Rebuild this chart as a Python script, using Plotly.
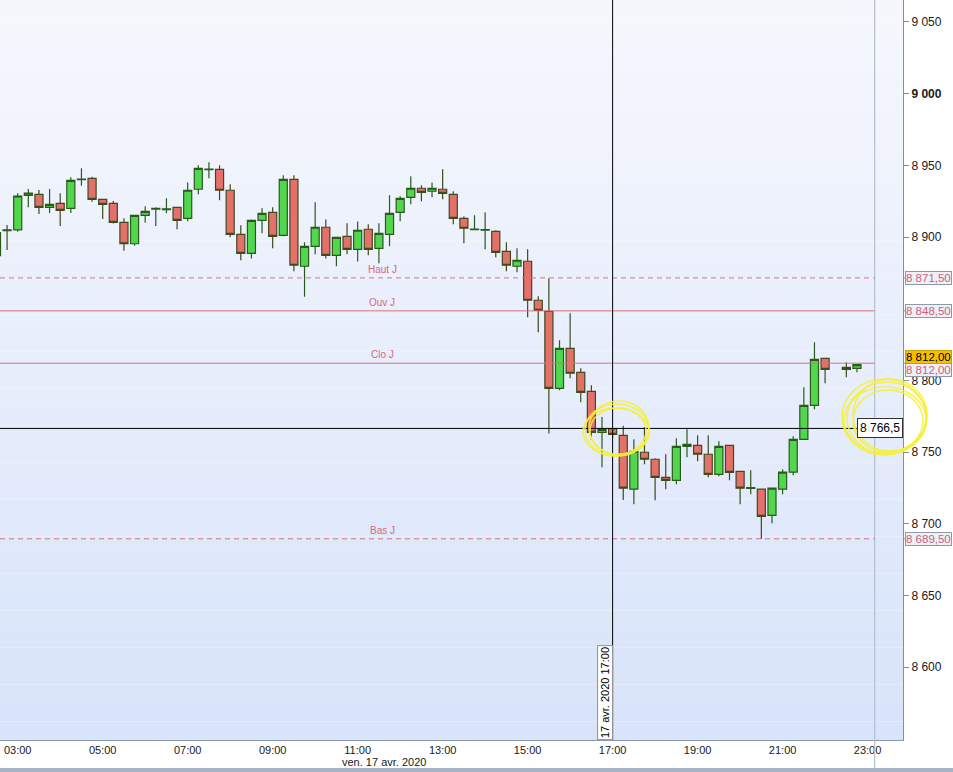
import pandas as pd
import plotly.graph_objects as go

# ---------------- data ----------------
times = [t.strftime("%Y-%m-%d %H:%M") for t in pd.date_range("2020-04-17 02:30", "2020-04-17 22:45", freq="15min")
         if t.strftime("%H:%M") != "22:15"]

opens = [8887, 8904.5, 8905, 8929, 8929.8, 8920.7, 8923.5, 8920, 8940.0, 8940.9,
         8926.3, 8923.5, 8910.2, 8895.3, 8915.1, 8919.5, 8919.0, 8920.7, 8913, 8933.3,
         8947.0, 8947.2, 8932.6, 8901.9, 8888.6, 8911.6, 8917.2, 8901.2, 8940.2, 8879.6,
         8893.5, 8906.8, 8887.2, 8900.5, 8891.4, 8905.4, 8892.1, 8901.9, 8917.2, 8927.7,
         8934, 8931.9, 8933.3, 8929.8, 8913, 8905.2, 8904.7, 8904, 8890, 8879.6,
         8883.1, 8855.9, 8848.2, 8794.5, 8822.4, 8805.6, 8792.4, 8763.8, 8766.4, 8761.7,
         8724.1, 8749.9, 8745, 8732.4, 8730.3, 8754, 8754.7, 8748.5, 8734.5, 8754.7,
         8736.6, 8724.6, 8724.1, 8705.9, 8724.1, 8736, 8758.9, 8782.6, 8815.4,
         8809.1, 8808.4]
highs = [8906, 8908.4, 8930.5, 8933.5, 8932.8, 8933.5, 8930.5, 8941.6, 8947.9, 8942,
         8926.3, 8925.1, 8913, 8915.1, 8921.4, 8920.7, 8927, 8920.7, 8938.1, 8950,
         8952.1, 8950, 8936.8, 8908.2, 8912.3, 8920, 8920.7, 8943, 8943, 8896.3,
         8924.2, 8912.3, 8899.8, 8909.6, 8910.9, 8908.9, 8909.6, 8929.1, 8928.4, 8942.3,
         8936.1, 8938.1, 8947.2, 8931.9, 8914.4, 8915.1, 8917.2, 8904.7, 8896.3, 8892.1,
         8891.4, 8858.6, 8871.2, 8828, 8846.9, 8808.4, 8796.6, 8774.5, 8767, 8768.4,
         8758.9, 8767.3, 8745.7, 8748.5, 8759.6, 8765.9, 8761.7, 8761.7, 8757.5, 8754.7,
         8736.6, 8737.3, 8724.1, 8724.8, 8738, 8761, 8795.2, 8826.6, 8815.4,
         8812.6, 8810.5]
lows = [8884, 8891, 8903.7, 8920.7, 8916, 8916.7, 8907.7, 8916.7, 8935.8, 8924.6,
        8912.6, 8909.5, 8890.5, 8893.9, 8910, 8907.7, 8916.5, 8905.4, 8911, 8929.8,
        8940.9, 8925.6, 8899.8, 8883.8, 8885.1, 8902.6, 8892.1, 8900.5, 8876.1, 8858.4,
        8887.9, 8885.1, 8879.6, 8887.9, 8883, 8887.2, 8881.7, 8893.5, 8911, 8922.8,
        8924.9, 8927.7, 8926.3, 8908.9, 8895.6, 8904.7, 8891.4, 8885.8, 8876.1, 8875.4,
        8844, 8833.5, 8763, 8793.1, 8801.5, 8784.7, 8758.4, 8739.4, 8760, 8716.5,
        8713.6, 8741.5, 8716.4, 8724.1, 8727.5, 8746.4, 8743.6, 8732.4, 8733.1, 8730.3,
        8713.6, 8720.6, 8689.5, 8700.3, 8720.6, 8733.8, 8758.9, 8779.8, 8798,
        8802.2, 8805.6]
closes = [8903, 8905, 8928.6, 8930.7, 8920.7, 8922.8, 8918.6, 8939.5, 8940.4, 8926.3,
          8922.8, 8910.2, 8895.3, 8915.1, 8917.9, 8920, 8919.6, 8911.6, 8932.6, 8947.9,
          8947.4, 8932.6, 8901.9, 8888.6, 8911.6, 8916.5, 8900.5, 8940.2, 8880.3, 8893.5,
          8906.8, 8887.2, 8899.8, 8891.4, 8904.7, 8891.4, 8902.6, 8916.5, 8927, 8934,
          8931.2, 8934, 8930.5, 8913, 8906.1, 8905.6, 8905.2, 8889.3, 8880.3, 8883.8,
          8855.9, 8848.9, 8794.5, 8822.4, 8805, 8791.7, 8763.8, 8765.9, 8762.4, 8724.8,
          8750.6, 8745, 8732.4, 8730.3, 8754, 8755.4, 8748.5, 8734.5, 8754, 8735.9,
          8724.8, 8725.2, 8705.2, 8724.8, 8736, 8758.9, 8782.6, 8814.7, 8807.7,
          8807.7, 8811]

level_names = ["Haut J", "Ouv J", "Clo J", "Bas J"]
level_values = [8871.5, 8848.5, 8812.0, 8689.5]
level_dashed = [True, False, False, True]
level_texts = ["8 871,50", "8 848,50", "8 812,00", "8 689,50"]

last_price_text = "8 812,00"
last_price = 8812.0
cross_price = 8766.5
cross_price_text = "8 766,5"
cross_time = "2020-04-17 17:00"
cross_time_text = "17 avr. 2020 17:00"
date_text = "ven. 17 avr. 2020"

ytick_vals = [8600, 8650, 8700, 8750, 8800, 8900, 8950, 9000, 9050]
ytick_text = ["8 600", "8 650", "8 700", "8 750", "8 800", "8 900", "8 950", "<b>9 000</b>", "9 050"]
xtick_vals = ["2020-04-17 %02d:00" % h for h in range(3, 24, 2)]
xtick_text = ["%02d:00" % h for h in range(3, 24, 2)]

# ---------------- layout constants ----------------
W, H = 953, 772
ML, MR, MT, MB = 0, 50, 0, 32
PW, PH = W - ML - MR, H - MT - MB
Y0, Y1 = 8549.2, 9065.3
X0, X1 = "2020-04-17 02:35:00", "2020-04-17 23:50:00"
SEP_T = "2020-04-17 23:10"

def py(price):
    return (price - Y0) / (Y1 - Y0)

fig = go.Figure()

fig.add_trace(go.Candlestick(
    x=times, open=opens, high=highs, low=lows, close=closes,
    increasing=dict(fillcolor="#52d64e", line=dict(color="#2b5a1c", width=1.2)),
    decreasing=dict(fillcolor="#e4706a", line=dict(color="#3f4a1e", width=1.2)),
    whiskerwidth=0, hoverinfo="skip", showlegend=False,
))

shapes = []
# gradient background
N = 40
c_top = (246, 247, 253)
c_bot = (216, 228, 250)
for i in range(N):
    f = i / (N - 1)
    c = tuple(int(round(c_top[k] + (c_bot[k] - c_top[k]) * f)) for k in range(3))
    shapes.append(dict(type="rect", xref="paper", yref="paper", x0=0, x1=1,
                       y0=1 - (i + 1) / N, y1=1 - i / N, fillcolor="rgb(%d,%d,%d)" % c,
                       line=dict(width=0), layer="below"))

# separator line near right
shapes.append(dict(type="line", xref="x", yref="paper", x0=SEP_T, x1=SEP_T, y0=-(H - 4 - PH) / PH, y1=1,
                   line=dict(color="#b3bfd3", width=1.2), layer="above"))

# level lines
for v, d in zip(level_values, level_dashed):
    shapes.append(dict(type="line", xref="x", yref="y", x0=X0, x1=SEP_T, y0=v, y1=v,
                       line=dict(color="#d8707e", width=1, dash="5px,4px" if d else "solid")))
    shapes.append(dict(type="line", xref="paper", yref="paper", x0=1, x1=1 + 5 / PW, y0=py(v), y1=py(v),
                       line=dict(color="#7f8fa0", width=1)))

# crosshair
shapes.append(dict(type="line", xref="x", yref="paper", x0=cross_time, x1=cross_time, y0=0, y1=1,
                   line=dict(color="black", width=1)))
shapes.append(dict(type="line", xref="paper", yref="y", x0=0, x1=1, y0=cross_price, y1=cross_price,
                   line=dict(color="black", width=1)))

# bottom band
shapes.append(dict(type="rect", xref="paper", yref="paper", x0=0, x1=W / PW,
                   y0=-(H - PH) / PH, y1=-(H - 4 - PH) / PH, fillcolor="#a7b3c3", line=dict(width=0)))

# hand drawn yellow circles
def ellipse(cx, cy, rx, ry, dx=0, dy=0):
    return dict(type="circle", xref="paper", yref="paper",
                x0=(cx - rx + dx) / PW, x1=(cx + rx + dx) / PW,
                y0=1 - (cy + ry + dy) / PH, y1=1 - (cy - ry + dy) / PH,
                line=dict(color="rgba(245,240,60,0.9)", width=1.5))

for (dx, dy, drx, dry) in [(0, 0, 0, 0), (2, -2, -2, 1), (-1, 2, 1, -2), (1, 1, -4, -3)]:
    shapes.append(ellipse(617 + dx, 430 + dy, 32 + drx, 26 + dry))
for (dx, dy, drx, dry) in [(0, 0, 0, 0), (3, -3, -3, 0), (-2, 2, 1, -3), (1, 3, -5, -5), (-3, -1, 2, 2)]:
    shapes.append(ellipse(887 + dx, 418 + dy, 40 + drx, 36 + dry))

annotations = []
# level names
for n, v in zip(level_names, level_values):
    annotations.append(dict(x=382 / PW, xref="paper", y=v, yref="y", text=n, showarrow=False,
                            yanchor="bottom", yshift=1, font=dict(size=10, color="#d86878",
                                                                  family="Liberation Sans, Arial")))
# right labels
for t, v in zip(level_texts, level_values):
    ys = -7 if v == last_price else 0
    annotations.append(dict(x=1, xref="paper", y=v, yref="y", text=t, showarrow=False,
                            xanchor="left", xshift=2, yshift=ys, bgcolor="#edf0f6", bordercolor="#8d98a8",
                            borderwidth=1, borderpad=0,
                            font=dict(size=11.5, color="#d0607a", family="Liberation Sans, Arial")))
annotations.append(dict(x=1, xref="paper", y=last_price, yref="y", text=last_price_text, showarrow=False,
                        xanchor="left", xshift=2, yshift=6, bgcolor="#f6c000", bordercolor="#caa000",
                        borderwidth=1, borderpad=0,
                        font=dict(size=11.5, color="black", family="Liberation Sans, Arial")))
# crosshair value
annotations.append(dict(x=1, xref="paper", y=cross_price, yref="y", text=cross_price_text, showarrow=False,
                        xanchor="right", bgcolor="white", bordercolor="#303030", borderwidth=1, borderpad=2,
                        font=dict(size=12, color="black", family="Liberation Sans, Arial")))
# crosshair time
annotations.append(dict(x=cross_time, xref="x", y=0, yref="paper", text=cross_time_text, showarrow=False,
                        xanchor="right", yanchor="bottom", textangle=-90, bgcolor="white",
                        bordercolor="#909090", borderwidth=1, borderpad=1,
                        font=dict(size=11, color="black", family="Liberation Sans, Arial")))
# date label
annotations.append(dict(x=384 / PW, xref="paper", y=-22 / PH, yref="paper", text=date_text, showarrow=False,
                        yanchor="middle", font=dict(size=11, color="#202020",
                                                    family="Liberation Sans Narrow, Liberation Sans, Arial")))

fig.update_layout(
    width=W, height=H, margin=dict(l=ML, r=MR, t=MT, b=MB),
    paper_bgcolor="white", plot_bgcolor="rgba(0,0,0,0)",
    shapes=shapes, annotations=annotations, showlegend=False,
    boxmode="overlay", boxgap=0.24, boxgroupgap=0.0,
    xaxis=dict(type="date", range=[X0, X1], rangeslider=dict(visible=False),
               tickvals=xtick_vals, ticktext=xtick_text, showgrid=False, zeroline=False,
               showline=True, linecolor="#8a98aa", linewidth=1, ticks="",
               tickfont=dict(size=11, color="#202020", family="Liberation Sans Narrow, Liberation Sans, Arial")),
    yaxis=dict(side="right", range=[Y0, Y1], tickvals=ytick_vals, ticktext=ytick_text,
               showgrid=False, zeroline=False, showline=True, linecolor="#7f8fa0", linewidth=1,
               ticks="outside", ticklen=5, tickcolor="#7f8fa0",
               tickfont=dict(size=12, color="#202020", family="Liberation Sans, Arial")),
)

fig.write_html("out.html", config={"displayModeBar": False},
               post_script="document.body.style.margin='0';document.body.style.overflow='hidden';")
